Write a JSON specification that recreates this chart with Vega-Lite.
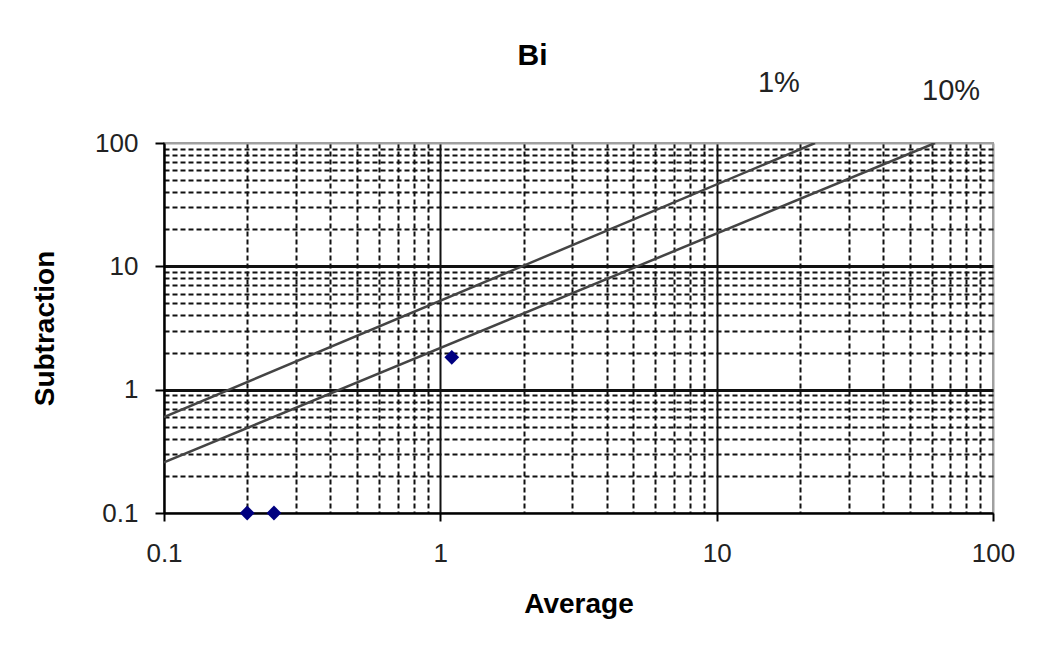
{
  "$schema": "https://vega.github.io/schema/vega-lite/v6.json",
  "autosize": {"type": "none"},
  "padding": {"left": 164, "top": 143, "right": 45, "bottom": 142},
  "width": 829,
  "height": 370,
  "background": "white",
  "title": {
    "text": "Bi",
    "anchor": "middle",
    "frame": "group",
    "dx": -46,
    "offset": -2,
    "font": "Liberation Sans",
    "fontSize": 30,
    "fontWeight": "bold",
    "color": "black"
  },
  "config": {
    "view": {"stroke": "#a0a0a0", "strokeWidth": 2},
    "font": "Liberation Sans"
  },
  "datasets": {
    "points": [
      {"Average": 0.2, "Subtraction": 0.1},
      {"Average": 0.25, "Subtraction": 0.1},
      {"Average": 1.1, "Subtraction": 1.83}
    ],
    "limits": [
      {"series": "1%", "Average": 0.1, "Subtraction": 0.6},
      {"series": "1%", "Average": 22.7, "Subtraction": 100},
      {"series": "10%", "Average": 0.1, "Subtraction": 0.257},
      {"series": "10%", "Average": 61.7, "Subtraction": 100}
    ],
    "labels": [
      {"text": "1%", "Average": 16.8, "Subtraction": 261},
      {"text": "10%", "Average": 70.5, "Subtraction": 225}
    ]
  },
  "layer": [
    {
      "data": {"name": "limits"},
      "mark": {"type": "line", "color": "#444444", "strokeWidth": 2.5, "clip": true},
      "encoding": {
        "x": {
          "field": "Average",
          "type": "quantitative",
          "scale": {"type": "log", "domain": [0.1, 100], "nice": false},
          "axis": {
            "title": "Average",
            "titleFont": "Liberation Sans",
            "titleFontSize": 28,
            "titleFontWeight": "bold",
            "titleColor": "black",
            "titlePadding": 24,
            "values": [0.1, 0.2, 0.3, 0.4, 0.5, 0.6, 0.7, 0.8, 0.9, 1, 2, 3, 4, 5, 6, 7, 8, 9, 10, 20, 30, 40, 50, 60, 70, 80, 90, 100],
            "format": "~g",
            "labelExpr": "indexof([0.1, 1, 10, 100], datum.value) >= 0 ? datum.label : ''",
            "labelOverlap": false,
            "labelFlush": false,
            "labelBound": false,
            "labelFont": "Liberation Sans",
            "labelFontSize": 26,
            "labelColor": "#222",
            "labelPadding": 19,
            "domainColor": "black",
            "domainWidth": 2,
            "tickColor": "black",
            "tickWidth": 2,
            "tickSize": {"condition": {"test": "indexof([0.1, 1, 10, 100], datum.value) >= 0", "value": 8}, "value": 0},
            "grid": true,
            "gridColor": {"condition": {"test": "datum.value == 100", "value": "#a0a0a0"}, "value": "#111"},
            "gridDash": {"condition": {"test": "indexof([0.1, 1, 10, 100], datum.value) >= 0", "value": []}, "value": [5, 3]},
            "gridWidth": {"condition": {"test": "indexof([1, 10], datum.value) >= 0", "value": 2}, "value": 2},
            "gridOpacity": 1
          }
        },
        "y": {
          "field": "Subtraction",
          "type": "quantitative",
          "scale": {"type": "log", "domain": [0.1, 100], "nice": false},
          "axis": {
            "title": "Subtraction",
            "titleFont": "Liberation Sans",
            "titleFontSize": 28,
            "titleFontWeight": "bold",
            "titleColor": "black",
            "titlePadding": 35,
            "values": [0.1, 0.2, 0.3, 0.4, 0.5, 0.6, 0.7, 0.8, 0.9, 1, 2, 3, 4, 5, 6, 7, 8, 9, 10, 20, 30, 40, 50, 60, 70, 80, 90, 100],
            "format": "~g",
            "labelExpr": "indexof([0.1, 1, 10, 100], datum.value) >= 0 ? datum.label : ''",
            "labelOverlap": false,
            "labelFlush": false,
            "labelBound": false,
            "labelFont": "Liberation Sans",
            "labelFontSize": 26,
            "labelColor": "#222",
            "labelPadding": 17,
            "domainColor": "black",
            "domainWidth": 2,
            "tickColor": "black",
            "tickWidth": 2,
            "tickSize": {"condition": {"test": "indexof([0.1, 1, 10, 100], datum.value) >= 0", "value": 9}, "value": 0},
            "grid": true,
            "gridColor": {"condition": {"test": "datum.value == 100", "value": "#a0a0a0"}, "value": "#111"},
            "gridDash": {"condition": {"test": "indexof([0.1, 1, 10, 100], datum.value) >= 0", "value": []}, "value": [5, 3]},
            "gridWidth": {"condition": {"test": "indexof([1, 10], datum.value) >= 0", "value": 3}, "value": 2},
            "gridOpacity": 1
          }
        },
        "detail": {"field": "series", "type": "nominal"}
      }
    },
    {
      "data": {"name": "points"},
      "mark": {"type": "point", "shape": "diamond", "filled": true, "color": "#000080", "size": 220, "opacity": 1, "clip": false},
      "encoding": {
        "x": {"field": "Average", "type": "quantitative"},
        "y": {"field": "Subtraction", "type": "quantitative"}
      }
    },
    {
      "data": {"name": "labels"},
      "mark": {"type": "text", "font": "Liberation Sans", "fontSize": 29, "color": "#222", "align": "center", "baseline": "alphabetic"},
      "encoding": {
        "x": {"field": "Average", "type": "quantitative"},
        "y": {"field": "Subtraction", "type": "quantitative"},
        "text": {"field": "text", "type": "nominal"}
      }
    }
  ]
}
